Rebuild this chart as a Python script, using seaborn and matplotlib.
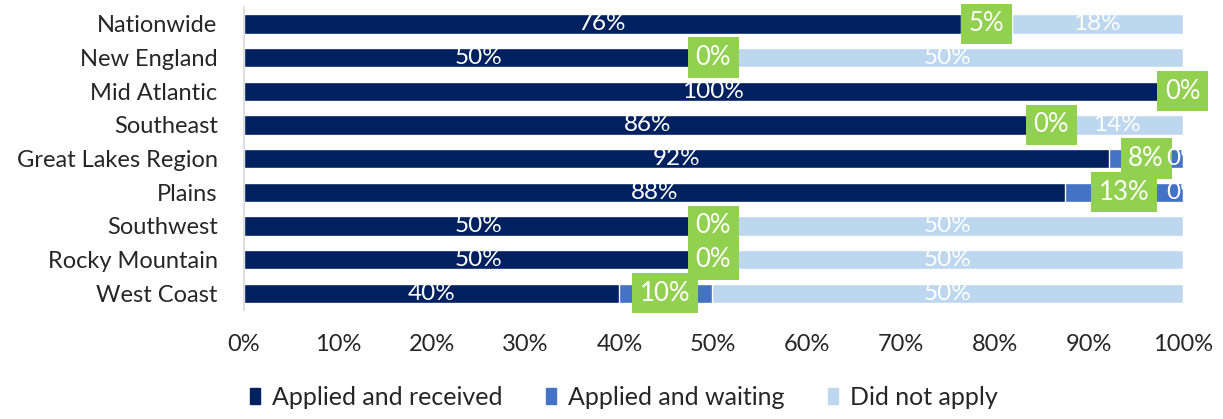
import numpy as np
import pandas as pd
import matplotlib
matplotlib.use("Agg")
import matplotlib.pyplot as plt
import seaborn as sns
from matplotlib.patches import Patch

# --- dados ---
regioes = ['Nationwide', 'New England', 'Mid Atlantic', 'Southeast', 'Great Lakes Region',
           'Plains', 'Southwest', 'Rocky Mountain', 'West Coast']
recebido = [76.4, 50, 100, 86, 92.2, 87.5, 50, 50, 39.9]
aguardando = [5.4, 0, 0, 0, 7.8, 12.5, 0, 0, 10.0]
nao_aplicou = [18.2, 50, 0, 14, 0, 0, 50, 50, 50.1]
series = ['Applied and received', 'Applied and waiting', 'Did not apply']

cor_escuro = '#002060'
cor_medio = '#4472C4'
cor_claro = '#BDD7EE'
cor_verde = '#92D050'


def pct(v):
    # arredonda como o Excel (meio para cima)
    return f'{int(v + 0.5)}%'


sns.set_theme(style='white')
plt.rcParams['font.family'] = ['Lato', 'DejaVu Sans']

df = pd.DataFrame({'regiao': regioes, 'rec': recebido, 'agu': aguardando, 'nao': nao_aplicou})
df['cum2'] = df['rec'] + df['agu']
df['cum3'] = df['cum2'] + df['nao']

fig = plt.figure(figsize=(12.23, 4.19), dpi=100)
ax = fig.add_axes([0.1995, 0.26, 0.7675, 0.723])

# barras empilhadas (desenha o total primeiro e sobrepoe)
sns.barplot(data=df, x='cum3', y='regiao', color=cor_claro, width=0.57, ax=ax, saturation=1)
sns.barplot(data=df, x='cum2', y='regiao', color=cor_medio, width=0.57, ax=ax, saturation=1)
sns.barplot(data=df, x='rec', y='regiao', color=cor_escuro, width=0.57, ax=ax, saturation=1)

ax.set_xlim(0, 100)
ax.set_ylim(len(regioes) - 0.5, -0.5)
ax.set_xticks(np.arange(0, 101, 10))
ax.set_xticklabels([f'{v}%' for v in range(0, 101, 10)], fontsize=17)
ax.tick_params(axis='x', pad=17, length=0)
ax.tick_params(axis='y', pad=19, length=0, labelsize=17)
ax.set_xlabel('')
ax.set_ylabel('')
for s in ['top', 'right', 'bottom']:
    ax.spines[s].set_visible(False)
ax.spines['left'].set_color('#D9D9D9')

# rotulos
for i in range(len(regioes)):
    r, a, n = recebido[i], aguardando[i], nao_aplicou[i]
    ax.text(r / 2, i, pct(r), ha='center', va='center', color='white', fontsize=17.5)
    if i != 2:
        ax.text(r + a + n / 2, i, pct(n), ha='center', va='center', color='white',
                fontsize=17.5, clip_on=True, zorder=6)
for i in range(len(regioes)):
    r, a = recebido[i], aguardando[i]
    ax.text(r + a / 2, i, pct(a), ha='center', va='center', color='white', fontsize=18.5,
            zorder=5, bbox=dict(boxstyle='square,pad=0.3', fc=cor_verde, ec='none'))

handles = [Patch(color=c) for c in (cor_escuro, cor_medio, cor_claro)]
fig.legend(handles, series, loc='lower center', ncol=3, frameon=False, fontsize=18,
           handlelength=0.42, handleheight=0.58, handletextpad=0.45, columnspacing=1.75,
           bbox_to_anchor=(0.51, -0.03))

fig.savefig('out.png', dpi=100)
